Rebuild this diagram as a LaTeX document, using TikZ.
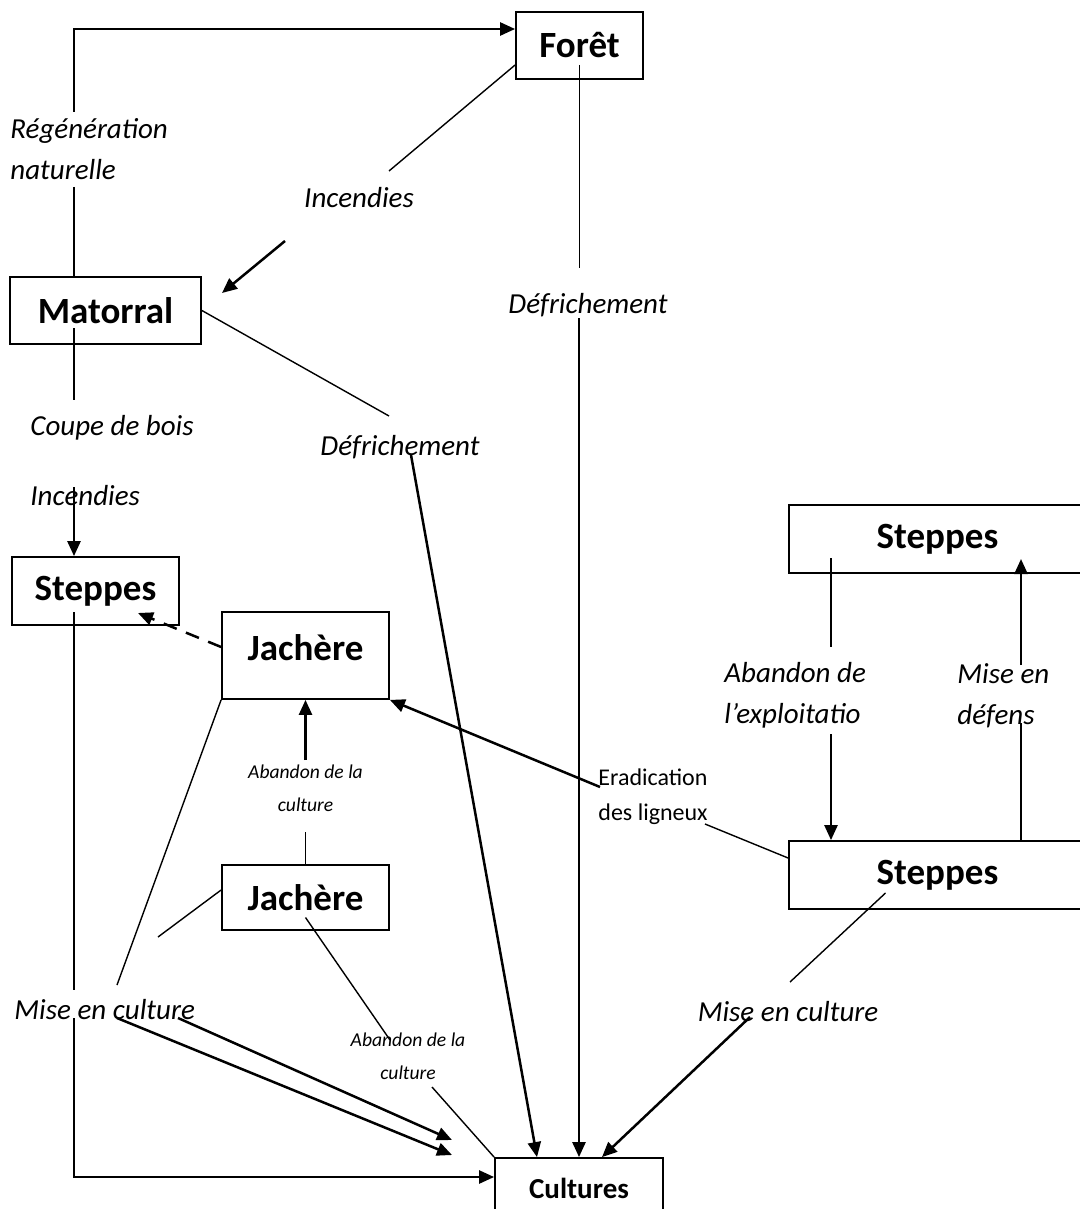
\documentclass[tikz,border=0pt]{standalone}
\usepackage{fontspec}
\setmainfont{Carlito}
\usetikzlibrary{arrows.meta}

\tikzstyle{box}=[draw,line width=0.9pt,inner sep=0pt,font=\fontsize{18.5}{22}\selectfont\bfseries]
\tikzstyle{small box}=[box,font=\fontsize{14.5}{17}\selectfont\bfseries]
\tikzstyle{process}=[inner sep=0pt,align=left,font=\fontsize{14.5}{20.5}\selectfont\itshape]
\tikzstyle{small process}=[process,align=center,font=\fontsize{9.8}{16.5}\selectfont\itshape]
\tikzstyle{plain process}=[process,font=\fontsize{12}{17.5}\selectfont]
\tikzstyle{link}=[draw,line width=0.7pt]
\tikzstyle{flow}=[draw,line width=1.25pt,-{Triangle[length=7.5pt,width=6.5pt]}]
\tikzstyle{dashed flow}=[flow,dash pattern=on 7pt off 5pt]

\begin{document}
\begin{tikzpicture}[x=0.5pt,y=-0.5pt]
    \useasboundingbox (0,0) rectangle (1080,1209);
    % Draw the vegetation states
    \foreach \pos/\name/\txt/\w/\h in {
        {(579.5,45.5)/foret/Forêt/63.5pt/33.5pt},
        {(105.5,310.5)/matorral/Matorral/95.5pt/33.5pt},
        {(95.5,591)/steppesL/Steppes/83.5pt/34pt},
        {(305.5,897.5)/jachereB/Jachère/83.5pt/32.5pt},
        {(937.5,539)/steppesT/Steppes/148.5pt/34pt},
        {(937.5,875)/steppesB/Steppes/148.5pt/34pt}}
    \node[box,minimum width=\w,minimum height=\h] (\name) at \pos {\txt};
    \node[box,minimum width=83.5pt,minimum height=43.5pt,text depth=8pt] (jachereT) at (305.5,655.5) {Jachère};
    \node[small box,minimum width=84pt,minimum height=30pt] (cultures) at (579,1188) {Cultures};
    % Then the processes
    \foreach \pos/\name/\txt in {
        {(359,198)/incA/Incendies},{(588,305)/defA/Défrichement},
        {(400,447)/defB/Défrichement},{(788,1012)/miseR/Mise en culture}}
    \node[process] (\name) at \pos {\txt};
    \foreach \pos/\name/\txt in {
        {(10,149)/regen/Régénération\\naturelle},{(30,428)/coupe/Coupe de bois},
        {(30,496)/incB/Incendies},{(14,1010)/miseL/Mise en culture},
        {(724,695.5)/abExpl/Abandon de\\l’exploitatio},{(957,695.5)/defens/Mise en\\défens}}
    \node[process,anchor=west] (\name) at \pos {\txt};
    \foreach \pos/\name in {{(305.5,788)/abandonA},{(408,1056)/abandonB}}
    \node[small process] (\name) at \pos {Abandon de la\\culture};
    \node[plain process,anchor=west] (eradic) at (598,797) {Eradication\\des ligneux};
    % Free ends of the connectors
    \foreach \pos/\name in {
        {(74,112)/c1},{(74,187)/c2},{(389,171)/c3},{(285,241)/c4},{(222,293)/c5},
        {(389,416)/c6},{(411,455)/c7},{(579.5,268)/c8},{(579,318)/c9},{(74,400)/c10},
        {(74,487)/c11},{(138,613)/c12},{(117,985)/c13},{(74,990)/c14},{(74,1018)/c15},
        {(158,937)/c16},{(117,1018)/c17},{(452,1155)/c18},{(178,1018)/c19},{(452,1140)/c20},
        {(390,1040)/c21},{(432,1087)/c22},{(305.5,832)/c23},{(305.5,760)/c24},
        {(831,647)/c25},{(831,734)/c26},{(1021,723)/c27},{(1021,665)/c28},
        {(705,824)/c29},{(600,787)/c30},{(790,982)/c31},{(750,1017)/c32}}
    \node[coordinate] (\name) at \pos {};
    \coordinate (fIn) at ([yshift=8.25pt]foret.west);
    \coordinate (fOut) at ([yshift=-9.75pt]foret.west);
    \coordinate (fMid) at ([yshift=-9.75pt]foret.center);
    \coordinate (mIn) at ([xshift=-15.75pt,yshift=-8.75pt]matorral.center);
    \coordinate (sIn) at ([xshift=-10.75pt,yshift=-10.5pt]steppesL.center);
    \coordinate (jIn) at ([yshift=4.25pt]jachereT.west);
    \coordinate (jbIn) at ([yshift=3.75pt]jachereB.west);
    \coordinate (jbMid) at ([yshift=-10pt]jachereB.center);
    \coordinate (sT1) at ([xshift=-53.25pt,yshift=-9.5pt]steppesT.center);
    \coordinate (sT2) at ([xshift=41.75pt,yshift=-10pt]steppesT.center);
    \coordinate (sB1) at ([yshift=8.5pt]steppesB.west);
    \coordinate (sB2) at ([xshift=-26pt,yshift=-9pt]steppesB.center);
    \coordinate (tA) at ([xshift=-21pt]cultures.north);
    \coordinate (tB) at ([xshift=11.5pt]cultures.north);
    \coordinate (tL) at ([yshift=5.5pt]cultures.west);
    % Connect with plain lines
    \foreach \source/\dest in {
        c2/matorral.north -| c2,fOut/c3,matorral.east/c6,fMid/c8,mIn/c10,
        jachereT.south west/c13,sIn/c14,jbIn/c16,jbMid/c21,c22/cultures.north west,
        jachereB.north/c23,sT1/c25,steppesB.north -| c27/c27,sB1/c29,sB2/c31}
    \path[link] (\source) -- (\dest);
    % and with arrows
    \foreach \source/\dest in {
        c4/c5,c7/tA,c9/cultures.north,c11/steppesL.north -| c11,c17/c18,c19/c20,
        c24/jachereT.south,c26/steppesB.north -| c26,c28/sT2,c30/jachereT.south east,c32/tB}
    \path[flow] (\source) -- (\dest);
    \path[flow] (c1) |- (fIn);
    \path[flow] (c15) |- (tL);
    \path[dashed flow] (jIn) -- (c12);
\end{tikzpicture}
\end{document}
